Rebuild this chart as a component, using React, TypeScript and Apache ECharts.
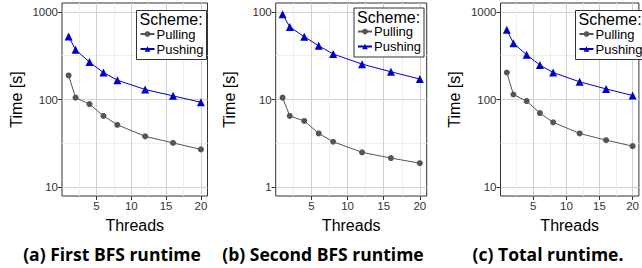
import React, { useEffect, useRef } from "react";
import * as echarts from "echarts";

// ---- data ----
const threads = [1, 2, 4, 6, 8, 12, 16, 20];
const firstPulling = [188, 105, 88.5, 65, 51.5, 38, 32, 27];
const firstPushing = [523, 369, 267, 203, 166, 130, 110, 93];
const secondPulling = [10.5, 6.5, 5.7, 4.1, 3.3, 2.5, 2.15, 1.88];
const secondPushing = [94, 67, 52, 41, 33, 25.3, 20.7, 17.1];
const totalPulling = [203, 114, 96, 70, 55, 41, 34.4, 29.4];
const totalPushing = [623, 439, 323, 247, 203, 159, 132, 111];

const seriesNames = ["Pulling", "Pushing"];
const legendTitle = "Scheme:";
const xTitle = "Threads";
const yTitle = "Time [s]";
const xTicks = [5, 10, 15, 20];
const xMinorTicks = [2.5, 7.5, 12.5, 17.5];
const yTicksAC = [10, 100, 1000];
const yMinorAC = [31.62, 316.2];
const yTicksB = [1, 10, 100];
const yMinorB = [3.162, 31.62];
const captions = ["(a) First BFS runtime", "(b) Second BFS runtime", "(c) Total runtime."];

const FONT = "Liberation Sans";
const PULL_COLOR = "#555555";
const PUSH_COLOR = "#0000cc";

const panels = [
  { pull: firstPulling, push: firstPushing, yTicks: yTicksAC, yMinor: yMinorAC, left: 62, width: 145.5, box: [136, 10, 70, 49], captionX: 112 },
  { pull: secondPulling, push: secondPushing, yTicks: yTicksB, yMinor: yMinorB, left: 275.7, width: 151, box: [353.5, 7.5, 70, 49], captionX: 323 },
  { pull: totalPulling, push: totalPushing, yTicks: yTicksAC, yMinor: yMinorAC, left: 500.5, width: 148, box: [575, 10, 70, 49], captionX: 548 },
];

export default function App() {
  const ref = useRef<HTMLDivElement>(null);
  useEffect(() => {
    if (!ref.current) return;
    const chart = echarts.init(ref.current, null, { renderer: "svg" });
    const grids: any[] = [];
    const xAxes: any[] = [];
    const yAxes: any[] = [];
    const series: any[] = [];
    const legends: any[] = [];
    const graphics: any[] = [];

    panels.forEach((p, i) => {
      grids.push({
        left: p.left, top: 3, width: p.width, height: 193,
        show: true, backgroundColor: "#ffffff", borderColor: "#333333", borderWidth: 1,
      });
      const yMin = p.yTicks[0] / Math.pow(10, 0.1);
      const yMax = p.yTicks[p.yTicks.length - 1] * Math.pow(10, 0.1);
      xAxes.push({
        type: "value", gridIndex: i, min: 0.05, max: 20.95, position: "bottom",
        axisLine: { show: false },
        axisTick: { show: true, customValues: xTicks, length: 4, lineStyle: { color: "#333333" } },
        axisLabel: { customValues: xTicks, fontSize: 11.5, color: "#333333", fontFamily: FONT, margin: 4 },
        splitLine: { show: true, lineStyle: { color: "#d0d0d0", width: 1 } },
        name: xTitle, nameLocation: "middle", nameGap: 21,
        nameTextStyle: { fontSize: 16, color: "#000000", fontFamily: FONT },
      });
      xAxes.push({
        type: "value", gridIndex: i, min: 0.05, max: 20.95, position: "top",
        axisLine: { show: false },
        axisTick: { show: false, customValues: xMinorTicks },
        axisLabel: { show: false, customValues: xMinorTicks },
        splitLine: { show: true, lineStyle: { color: "#eeeeee", width: 1 } },
      });
      yAxes.push({
        type: "log", logBase: 10, gridIndex: i, min: yMin, max: yMax, position: "left",
        axisLine: { show: false },
        axisTick: { show: true, customValues: p.yTicks, length: 4, lineStyle: { color: "#333333" } },
        axisLabel: { customValues: p.yTicks, fontSize: 11.5, color: "#333333", fontFamily: FONT, margin: 4, formatter: (v: number) => String(Math.round(v)) },
        splitLine: { show: true, lineStyle: { color: "#d0d0d0", width: 1 } },
        name: yTitle, nameLocation: "middle", nameGap: 38,
        nameTextStyle: { fontSize: 16, color: "#000000", fontFamily: FONT },
      });
      yAxes.push({
        type: "log", logBase: 10, gridIndex: i, min: yMin, max: yMax, position: "right",
        axisLine: { show: false },
        axisTick: { show: false, customValues: p.yMinor },
        axisLabel: { show: false, customValues: p.yMinor },
        splitLine: { show: true, lineStyle: { color: "#eeeeee", width: 1 } },
      });
      series.push({
        type: "line", name: seriesNames[0], xAxisIndex: i * 2, yAxisIndex: i * 2,
        data: threads.map((t, k) => [t, p.pull[k]]),
        symbol: "circle", symbolSize: 6,
        itemStyle: { color: PULL_COLOR }, lineStyle: { color: PULL_COLOR, width: 1 }, z: 3,
      });
      series.push({
        type: "line", name: seriesNames[1], xAxisIndex: i * 2, yAxisIndex: i * 2,
        data: threads.map((t, k) => [t, p.push[k]]),
        symbol: "triangle", symbolSize: 8,
        itemStyle: { color: PUSH_COLOR }, lineStyle: { color: PUSH_COLOR, width: 1 }, z: 3,
      });
      const [bx, by, bw, bh] = p.box;
      legends.push({
        data: seriesNames, orient: "vertical", left: bx + 3.5, top: by + 17,
        itemWidth: 14, itemHeight: 7, itemGap: 1, padding: 0, selectedMode: false,
        textStyle: { fontSize: 13, fontFamily: FONT, color: "#000000", padding: [0, 0, 0, -3], lineHeight: 14 },
        z: 6,
      });
      graphics.push({
        type: "rect", z: 5, shape: { x: bx + 0.5, y: by + 0.5, width: bw, height: bh },
        style: { fill: "#ffffff", stroke: "#333333", lineWidth: 1 },
      });
      graphics.push({
        type: "text", z: 7, x: bx + 3.5, y: by + 9.5,
        style: { text: legendTitle, fontSize: 16, fontFamily: FONT, fill: "#000000", verticalAlign: "middle", align: "left" },
      });
      graphics.push({
        type: "text", z: 7, x: p.captionX, y: 254,
        style: { text: captions[i], fontSize: 17.5, fontFamily: "Open Sans", fontWeight: "bold", fill: "#000000", verticalAlign: "middle", align: "center" },
      });
    });

    chart.setOption({
      animation: false,
      backgroundColor: "#ffffff",
      grid: grids,
      xAxis: xAxes,
      yAxis: yAxes,
      series,
      legend: legends,
      graphic: graphics,
    });
    return () => chart.dispose();
  }, []);
  return <div ref={ref} style={{ position: "absolute", left: 0, top: 0, width: 642, height: 268 }} />;
}
